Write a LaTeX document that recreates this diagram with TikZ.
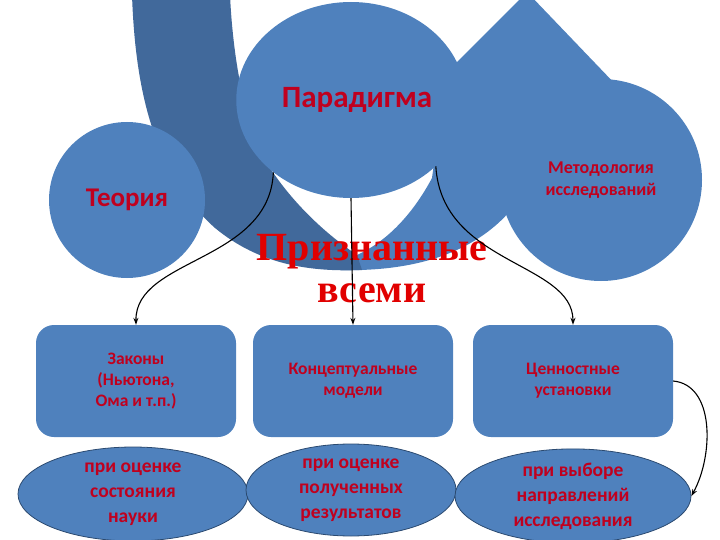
\documentclass[tikz,border=0pt]{standalone}
\usepackage{fontspec}
\setmainfont{Carlito}
\newfontfamily\serifbig{Liberation Serif}
\usepackage{xcolor}
\definecolor{colorShape}{HTML}{4F81BD}
\definecolor{colorBand}{HTML}{41699B}
\definecolor{colorEdge}{HTML}{2B4A70}
\definecolor{colorLabel}{HTML}{C0001E}
\definecolor{colorRecognized}{HTML}{E10000}
\usetikzlibrary{arrows.meta, shapes.geometric}

\begin{document}
\begin{tikzpicture}[x=1pt, y=-1pt, >={Stealth[length=7pt, width=5pt]},
  blob/.style={fill=colorShape, inner sep=0pt, text=colorLabel, align=center},
  box/.style={blob, rounded corners=18pt, minimum width=200pt, minimum height=112pt,
    font=\bfseries\fontsize{17.5}{21}\selectfont},
  oval/.style={blob, ellipse, draw=colorEdge, line width=0.8pt, minimum height=94pt,
    font=\bfseries\fontsize{19.5}{25}\selectfont}]
\useasboundingbox (0,0) rectangle (720,540);
\clip (0,0) rectangle (720,540);
% background band and diamond
\fill[colorShape] (527,-8) -- (640,110) -- (527,228) -- (409,110) -- cycle;
\fill[colorShape] (340,270) .. controls (420,272) and (480,250) .. (515,205) -- (520,120) -- (440,120) -- (432,178) .. controls (415,210) and (390,240) .. (357,255) -- cycle;
\fill[colorBand] (132,-5) .. controls (135,80) and (150,170) .. (215,228) .. controls (260,265) and (310,272) .. (362,270) -- (357,255) .. controls (320,230) and (285,195) .. (262,155) .. controls (245,120) and (233,60) .. (230,-5) -- cycle;
% circles
\node[blob, circle, minimum size=156pt, font=\bfseries\fontsize{27}{30}\selectfont] (theory) at (127,200) {Теория};
\node[blob, ellipse, minimum width=228pt, minimum height=196pt, font=\bfseries\fontsize{31}{34}\selectfont] (par) at (351,100) {\hspace{12pt}Парадигма};
\node[blob, circle, minimum size=202pt, font=\bfseries\fontsize{18}{22}\selectfont] (method) at (601,180) {Методология\\исследований};
\node[text=colorRecognized, align=center, font=\serifbig\bfseries\fontsize{40}{42}\selectfont] (recog) at (372,269) {Признанные\\всеми};
% boxes
\node[box] (laws) at (136,381) {Законы\\(Ньютона,\\Ома и т.п.)};
\node[box] (models) at (353,381) {Концептуальные\\модели};
\node[box] (values) at (573,381) {Ценностные\\установки};
% ovals
\node[oval, minimum width=230pt] (science) at (133,494) {при оценке\\состояния\\науки};
\node[oval, minimum width=210pt, minimum height=92pt] (results) at (351,490) {при оценке\\полученных\\результатов};
\node[oval, minimum width=236pt] (directions) at (573,496) {при выборе\\направлений\\исследования};
% arrows
\draw [->, line width=1.1pt] (par.223) .. controls +(-4,90) and +(-1,-67) .. (laws.north);
\draw [->, line width=1.1pt] (par.south) -- (models.north);
\draw [->, line width=1.1pt] (par.-38) .. controls +(6,99) and +(0,-63) .. (values.north);
\draw [->, line width=1.1pt] (values.east) .. controls +(42,4) and +(22,-40) .. (directions.east);
\end{tikzpicture}
\end{document}
